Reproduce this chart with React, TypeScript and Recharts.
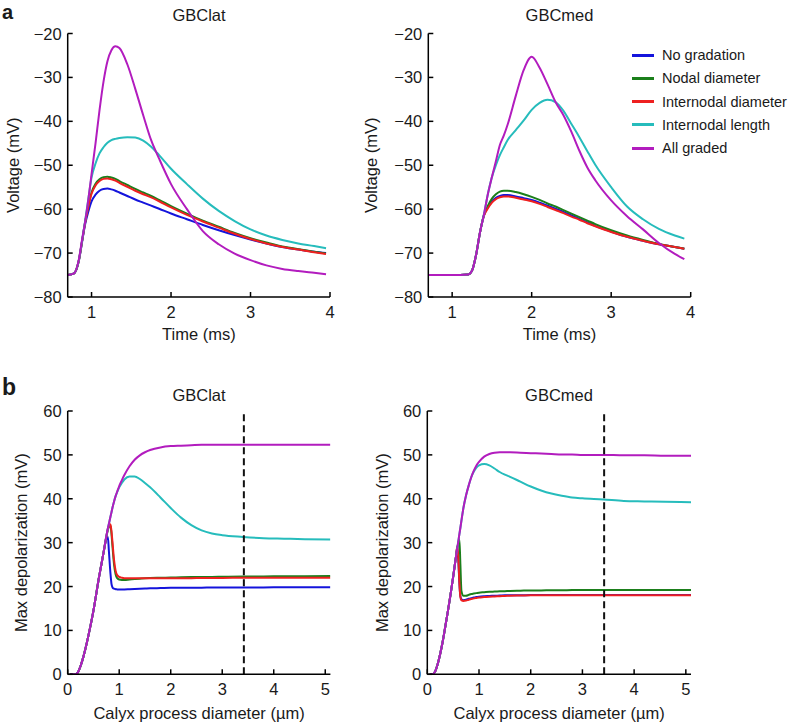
import React from 'react';
import { LineChart, Line, XAxis, YAxis, ReferenceLine, Legend } from 'recharts';

const FONT = '"Liberation Sans", Arial, Helvetica, sans-serif';
const INK = '#1a1a1a';

// series order = legend order = draw order
const seriesKeys = ['blue', 'green', 'red', 'cyan', 'magenta'];
const seriesNames = ['No gradation', 'Nodal diameter', 'Internodal diameter', 'Internodal length', 'All graded'];
const seriesColors = ['#1414dc', '#1b7f1b', '#ee2020', '#26bcbc', '#b21cbe'];

// a: voltage traces, GBClat
const tlTime = [0.7, 0.78, 0.84, 0.88, 0.92, 0.96, 1.0, 1.05, 1.1, 1.15, 1.2, 1.25, 1.3, 1.35, 1.45, 1.55, 1.65, 1.75, 1.85, 2.0, 2.2, 2.4, 2.6, 2.8, 3.0, 3.2, 3.4, 3.6, 3.8, 3.95];
const tlBlue = [-75, -74.6, -71.8, -67.6, -63.4, -60.5, -58.2, -56.7, -55.8, -55.4, -55.3, -55.5, -55.8, -56.2, -57.0, -57.8, -58.5, -59.2, -59.9, -61.0, -62.3, -63.6, -64.8, -65.9, -66.9, -67.8, -68.6, -69.2, -69.7, -70.0];
const tlGreen = [-75, -74.6, -71.7, -67.4, -62.9, -59.2, -56.2, -54.2, -53.2, -52.7, -52.6, -52.8, -53.1, -53.6, -54.5, -55.4, -56.2, -57.0, -57.9, -59.3, -61.0, -62.6, -64.0, -65.4, -66.6, -67.6, -68.5, -69.1, -69.7, -70.1];
const tlRed = [-75, -74.6, -71.7, -67.4, -63.0, -59.4, -56.5, -54.6, -53.6, -53.1, -53.0, -53.2, -53.5, -54.0, -54.9, -55.8, -56.6, -57.3, -58.2, -59.6, -61.3, -62.8, -64.2, -65.6, -66.8, -67.8, -68.6, -69.2, -69.8, -70.2];
const tlCyan = [-75, -74.6, -71.6, -67.2, -62.6, -57.6, -52.8, -49.6, -47.3, -45.9, -44.9, -44.3, -44.0, -43.8, -43.6, -43.7, -44.4, -45.8, -47.7, -50.8, -54.3, -57.6, -60.4, -62.7, -64.6, -66.0, -67.0, -67.8, -68.4, -68.9];
const tlMagenta = [-75, -74.6, -71.5, -67.0, -62.8, -57.8, -52.0, -45.0, -37.5, -31.0, -26.3, -23.8, -22.9, -23.3, -27.0, -32.6, -38.6, -44.3, -48.5, -54.3, -60.0, -65.0, -68.0, -70.1, -71.6, -72.8, -73.6, -74.1, -74.5, -74.8];

// a: voltage traces, GBCmed
const trTime = [0.7, 0.9, 1.1, 1.2, 1.25, 1.3, 1.35, 1.4, 1.45, 1.5, 1.55, 1.6, 1.65, 1.7, 1.8, 1.9, 2.0, 2.1, 2.2, 2.3, 2.4, 2.5, 2.6, 2.7, 2.8, 3.0, 3.2, 3.4, 3.6, 3.8, 3.92];
const trBlue = [-75, -75, -75, -74.9, -74.0, -70.5, -65.3, -61.4, -59.5, -58.2, -57.4, -57.0, -56.8, -56.8, -57.1, -57.5, -57.9, -58.5, -59.2, -59.9, -60.6, -61.4, -62.2, -63.0, -63.8, -65.1, -66.3, -67.2, -68.0, -68.6, -69.0];
const trGreen = [-75, -75, -75, -74.9, -74.0, -70.5, -65.3, -61.3, -59.2, -57.6, -56.6, -56.0, -55.8, -55.8, -56.1, -56.6, -57.2, -57.9, -58.7, -59.4, -60.2, -61.0, -61.8, -62.6, -63.4, -64.8, -66.0, -67.0, -67.9, -68.6, -69.0];
const trRed = [-75, -75, -75, -74.9, -74.0, -70.5, -65.3, -61.5, -59.8, -58.5, -57.7, -57.3, -57.1, -57.1, -57.4, -57.8, -58.2, -58.8, -59.5, -60.2, -60.9, -61.7, -62.4, -63.2, -63.9, -65.2, -66.3, -67.2, -68.0, -68.6, -69.0];
const trCyan = [-75, -75, -75, -74.9, -74.0, -70.5, -65.3, -61.2, -56.5, -52.7, -50.0, -47.7, -45.9, -44.2, -42.0, -39.8, -37.4, -35.8, -35.1, -35.6, -37.6, -40.6, -43.6, -46.8, -49.9, -55.0, -59.4, -62.3, -64.5, -66.0, -66.7];
const trMagenta = [-75, -75, -75, -74.9, -74.0, -70.5, -65.3, -61.2, -56.5, -52.7, -49.1, -45.4, -43.2, -40.6, -34.2, -28.3, -25.3, -27.8, -31.6, -35.6, -38.6, -42.4, -46.7, -50.5, -53.4, -58.0, -61.6, -64.6, -67.7, -70.2, -71.4];

// b: max depolarization, GBClat
const blDiam = [0.05, 0.15, 0.2, 0.25, 0.3, 0.35, 0.4, 0.45, 0.5, 0.55, 0.6, 0.65, 0.7, 0.75, 0.78, 0.8, 0.83, 0.85, 0.87, 0.9, 0.93, 0.96, 1.0, 1.05, 1.1, 1.2, 1.3, 1.4, 1.5, 1.6, 1.8, 2.0, 2.2, 2.4, 2.6, 2.8, 3.0, 3.4, 3.8, 4.2, 4.6, 5.1];
const blBlue = [0, 0, 0.5, 1.9, 3.8, 6.1, 8.7, 11.5, 14.5, 18.0, 21.6, 24.8, 28.0, 30.8, 31.3, 28.0, 23.0, 20.6, 19.8, 19.5, 19.4, 19.35, 19.3, 19.3, 19.35, 19.4, 19.45, 19.5, 19.55, 19.6, 19.65, 19.7, 19.7, 19.75, 19.75, 19.8, 19.8, 19.8, 19.8, 19.85, 19.85, 19.85];
const blGreen = [0, 0, 0.5, 1.9, 3.8, 6.1, 8.7, 11.5, 14.5, 18.0, 21.6, 24.8, 28.0, 31.3, 32.9, 33.6, 33.9, 32.0, 29.0, 25.0, 22.8, 21.9, 21.6, 21.5, 21.5, 21.6, 21.7, 21.8, 21.9, 21.95, 22.0, 22.05, 22.1, 22.15, 22.2, 22.2, 22.25, 22.3, 22.3, 22.35, 22.35, 22.4];
const blRed = [0, 0, 0.5, 1.9, 3.8, 6.1, 8.7, 11.5, 14.5, 18.0, 21.6, 24.8, 28.0, 31.4, 33.1, 33.8, 34.2, 32.6, 30.0, 26.0, 23.6, 22.6, 22.2, 22.0, 21.9, 21.9, 21.9, 21.9, 21.9, 21.9, 21.9, 21.9, 21.9, 21.9, 21.95, 21.95, 21.95, 22.0, 22.0, 22.0, 22.0, 22.0];
const blCyan = [0, 0, 0.5, 1.9, 3.8, 6.1, 8.7, 11.5, 14.5, 18.0, 21.6, 24.8, 28.0, 31.5, 33.3, 34.3, 35.9, 36.9, 38.0, 39.4, 40.6, 41.5, 42.6, 43.6, 44.4, 45.1, 45.1, 44.5, 43.6, 42.6, 40.3, 37.9, 35.7, 34.0, 32.8, 32.1, 31.7, 31.3, 31.0, 30.9, 30.8, 30.7];
const blMagenta = [0, 0, 0.5, 1.9, 3.8, 6.1, 8.7, 11.5, 14.5, 18.0, 21.6, 24.8, 28.0, 31.5, 33.3, 34.3, 35.9, 36.9, 38.0, 39.4, 40.6, 41.6, 42.9, 44.2, 45.4, 47.4, 48.9, 49.9, 50.6, 51.1, 51.7, 52.0, 52.1, 52.2, 52.3, 52.3, 52.3, 52.3, 52.3, 52.3, 52.3, 52.3];

// b: max depolarization, GBCmed
const brDiam = [0.05, 0.1, 0.15, 0.2, 0.25, 0.3, 0.35, 0.4, 0.45, 0.5, 0.55, 0.58, 0.6, 0.62, 0.64, 0.66, 0.7, 0.75, 0.8, 0.85, 0.9, 0.95, 1.0, 1.1, 1.2, 1.3, 1.4, 1.5, 1.6, 1.8, 2.0, 2.2, 2.4, 2.6, 2.8, 3.0, 3.4, 3.8, 4.2, 4.6, 5.1];
const brBlue = [0, 0, 0.6, 2.3, 4.7, 7.6, 11.0, 14.5, 18.2, 22.2, 26.4, 29.0, 26.0, 20.8, 17.8, 17.1, 16.9, 17.0, 17.2, 17.35, 17.5, 17.6, 17.7, 17.8, 17.85, 17.9, 17.95, 18.0, 18.0, 18.0, 18.05, 18.05, 18.05, 18.05, 18.05, 18.05, 18.05, 18.05, 18.05, 18.05, 18.05];
const brGreen = [0, 0, 0.6, 2.3, 4.7, 7.6, 11.0, 14.5, 18.2, 22.2, 26.4, 28.6, 30.0, 30.8, 25.0, 19.0, 17.9, 17.9, 18.1, 18.3, 18.4, 18.5, 18.6, 18.7, 18.8, 18.85, 18.9, 18.95, 19.0, 19.05, 19.1, 19.1, 19.15, 19.15, 19.2, 19.2, 19.2, 19.2, 19.2, 19.2, 19.2];
const brRed = [0, 0, 0.6, 2.3, 4.7, 7.6, 11.0, 14.5, 18.2, 22.2, 26.4, 29.2, 26.5, 21.0, 17.6, 16.9, 16.7, 16.8, 17.0, 17.15, 17.3, 17.4, 17.5, 17.6, 17.7, 17.75, 17.8, 17.85, 17.9, 17.95, 18.0, 18.0, 18.0, 18.0, 18.0, 18.0, 18.0, 18.0, 18.0, 18.0, 18.0];
const brCyan = [0, 0, 0.6, 2.3, 4.7, 7.6, 11.0, 14.5, 18.2, 22.2, 26.4, 28.8, 30.3, 31.9, 33.4, 35.0, 38.0, 40.8, 43.0, 44.9, 46.2, 47.1, 47.6, 47.9, 47.6, 46.9, 46.1, 45.5, 45.0, 43.9, 42.8, 41.9, 41.2, 40.7, 40.3, 40.1, 39.85, 39.5, 39.4, 39.3, 39.2];
const brMagenta = [0, 0, 0.6, 2.3, 4.7, 7.6, 11.0, 14.5, 18.2, 22.2, 26.4, 28.8, 30.3, 31.9, 33.4, 35.0, 38.0, 40.8, 43.0, 44.9, 46.4, 47.6, 48.4, 49.6, 50.2, 50.5, 50.6, 50.6, 50.6, 50.5, 50.4, 50.3, 50.2, 50.1, 50.1, 50.0, 50.0, 49.9, 49.9, 49.8, 49.8];

const timeTicks = [1, 2, 3, 4];
const voltTicks = [-80, -70, -60, -50, -40, -30, -20];
const diamTicks = [0, 1, 2, 3, 4, 5];
const depolTicks = [0, 10, 20, 30, 40, 50, 60];
const axonDiameter = 3.42; // dashed marker

const toRows = (xs: number[], cols: number[][]) =>
  xs.map((x, i) => {
    const row: Record<string, number> = { x };
    seriesKeys.forEach((k, j) => (row[k] = cols[j][i]));
    return row;
  });

const tlRows = toRows(tlTime, [tlBlue, tlGreen, tlRed, tlCyan, tlMagenta]);
const trRows = toRows(trTime, [trBlue, trGreen, trRed, trCyan, trMagenta]);
const blRows = toRows(blDiam, [blBlue, blGreen, blRed, blCyan, blMagenta]);
const brRows = toRows(brDiam, [brBlue, brGreen, brRed, brCyan, brMagenta]);

const fmt = (v: number) => (v < 0 ? '\u2212' + Math.abs(v) : String(v));

// ticks point inwards, so draw line + label ourselves
const XTick = (props: any) => {
  const { x, y, payload } = props;
  return (
    <g>
      <line x1={x} y1={y} x2={x} y2={y - 5} stroke="#000" strokeWidth={1.5} />
      <text x={x} y={y + 21} textAnchor="middle" fontSize={16.5} fontFamily={FONT} fill={INK}>
        {fmt(payload.value)}
      </text>
    </g>
  );
};

const YTick = (props: any) => {
  const { x, y, payload } = props;
  return (
    <g>
      <line x1={x} y1={y} x2={x + 5} y2={y} stroke="#000" strokeWidth={1.5} />
      <text x={x - 6} y={y + 6} textAnchor="end" fontSize={16.5} fontFamily={FONT} fill={INK}>
        {fmt(payload.value)}
      </text>
    </g>
  );
};

const LegendBox = () => (
  <div style={{ fontFamily: FONT, fontSize: 14.5, color: INK }}>
    {seriesNames.map((name, i) => (
      <div key={name} style={{ display: 'flex', alignItems: 'center', height: 23.3, whiteSpace: 'nowrap' }}>
        <span style={{ display: 'inline-block', width: 22, height: 3, background: seriesColors[i], marginRight: 8 }} />
        <span>{name}</span>
      </div>
    ))}
  </div>
);

interface PanelProps {
  rows: Record<string, number>[];
  width: number;
  height: number;
  margin: { top: number; right: number; bottom: number; left: number };
  yAxisWidth: number;
  xAxisHeight: number;
  xDomain: [number, number];
  yDomain: [number, number];
  xTicks: number[];
  yTicks: number[];
  xTitle: string;
  yTitle: string;
  xTitleGap: number;
  yTitleGap: number;
  refX?: number;
  legendPos?: { left: number; top: number };
}

const Panel = (p: PanelProps) => (
  <LineChart width={p.width} height={p.height} data={p.rows} margin={p.margin}>
    <XAxis
      dataKey="x"
      type="number"
      domain={p.xDomain}
      ticks={p.xTicks}
      interval={0}
      allowDataOverflow
      height={p.xAxisHeight}
      axisLine={{ stroke: '#000', strokeWidth: 1.5 }}
      tickLine={false}
      tickSize={0}
      tickMargin={0}
      tick={XTick}
      label={{
        content: (lp: any) => {
          const vb = lp.viewBox;
          return (
            <text x={vb.x + vb.width / 2} y={vb.y + p.xTitleGap} textAnchor="middle" fontSize={16.5} fontFamily={FONT} fill={INK}>
              {p.xTitle}
            </text>
          );
        },
      }}
    />
    <YAxis
      type="number"
      domain={p.yDomain}
      ticks={p.yTicks}
      interval={0}
      allowDataOverflow
      width={p.yAxisWidth}
      axisLine={{ stroke: '#000', strokeWidth: 1.5 }}
      tickLine={false}
      tickSize={0}
      tickMargin={0}
      tick={YTick}
      label={{
        content: (lp: any) => {
          const vb = lp.viewBox;
          const cx = vb.x + vb.width - p.yTitleGap;
          const cy = vb.y + vb.height / 2;
          return (
            <text
              x={cx}
              y={cy}
              transform={`rotate(-90 ${cx} ${cy})`}
              textAnchor="middle"
              dominantBaseline="central"
              fontSize={16.5}
              fontFamily={FONT}
              fill={INK}
            >
              {p.yTitle}
            </text>
          );
        },
      }}
    />
    {seriesKeys.map((k, i) => (
      <Line
        key={k}
        type="monotone"
        dataKey={k}
        name={seriesNames[i]}
        stroke={seriesColors[i]}
        strokeWidth={2}
        dot={false}
        activeDot={false}
        isAnimationActive={false}
      />
    ))}
    {p.refX !== undefined && (
      <ReferenceLine x={p.refX} stroke="#111" strokeWidth={2} strokeDasharray="7 4" />
    )}
    {p.legendPos && (
      <Legend
        layout="horizontal"
        verticalAlign="middle"
        align="center"
        content={() => <LegendBox />}
        wrapperStyle={{ left: p.legendPos.left, top: p.legendPos.top, width: 160, height: 117 }}
      />
    )}
  </LineChart>
);

export default function App() {
  return (
    <div style={{ position: 'absolute', left: 0, top: 0, width: 788, height: 725, background: '#fff', fontFamily: FONT }}>
      <div style={{ position: 'absolute', left: 0, top: 0 }}>
        <Panel
          rows={tlRows}
          width={340}
          height={350}
          margin={{ top: 33.5, right: 10, bottom: 0, left: 0 }}
          yAxisWidth={67.7}
          xAxisHeight={53}
          xDomain={[0.7, 4]}
          yDomain={[-80, -20]}
          xTicks={timeTicks}
          yTicks={voltTicks}
          xTitle="Time (ms)"
          yTitle="Voltage (mV)"
          xTitleGap={43}
          yTitleGap={55}
        />
      </div>
      <div style={{ position: 'absolute', left: 360, top: 0 }}>
        <Panel
          rows={trRows}
          width={428}
          height={350}
          margin={{ top: 33.5, right: 97.3, bottom: 0, left: 0 }}
          yAxisWidth={68.3}
          xAxisHeight={53}
          xDomain={[0.7, 4]}
          yDomain={[-80, -20]}
          xTicks={timeTicks}
          yTicks={voltTicks}
          xTitle="Time (ms)"
          yTitle="Voltage (mV)"
          xTitleGap={43}
          yTitleGap={57}
          legendPos={{ left: 272, top: 43.4 }}
        />
      </div>
      <div style={{ position: 'absolute', left: 0, top: 360 }}>
        <Panel
          rows={blRows}
          width={340}
          height={365}
          margin={{ top: 51, right: 9.6, bottom: 0, left: 0 }}
          yAxisWidth={67.7}
          xAxisHeight={50.7}
          xDomain={[0, 5.1]}
          yDomain={[0, 60]}
          xTicks={diamTicks}
          yTicks={depolTicks}
          xTitle="Calyx process diameter (µm)"
          yTitle="Max depolarization (mV)"
          xTitleGap={45}
          yTitleGap={46.5}
          refX={axonDiameter}
        />
      </div>
      <div style={{ position: 'absolute', left: 360, top: 360 }}>
        <Panel
          rows={brRows}
          width={340}
          height={365}
          margin={{ top: 51, right: 9, bottom: 0, left: 0 }}
          yAxisWidth={67.3}
          xAxisHeight={50.7}
          xDomain={[0, 5.1]}
          yDomain={[0, 60]}
          xTicks={diamTicks}
          yTicks={depolTicks}
          xTitle="Calyx process diameter (µm)"
          yTitle="Max depolarization (mV)"
          xTitleGap={45}
          yTitleGap={45.5}
          refX={axonDiameter}
        />
      </div>
      <svg width={788} height={725} style={{ position: 'absolute', left: 0, top: 0, pointerEvents: 'none' }}>
        <g fontFamily={FONT} fill={INK}>
          <text x={2} y={19} fontSize={20} fontWeight="bold">a</text>
          <text x={2} y={395} fontSize={23} fontWeight="bold">b</text>
          <text x={199} y={21} fontSize={16.5} textAnchor="middle">GBClat</text>
          <text x={559.5} y={21} fontSize={16.5} textAnchor="middle">GBCmed</text>
          <text x={199} y={400.5} fontSize={16.5} textAnchor="middle">GBClat</text>
          <text x={559} y={400.5} fontSize={16.5} textAnchor="middle">GBCmed</text>
        </g>
      </svg>
    </div>
  );
}
